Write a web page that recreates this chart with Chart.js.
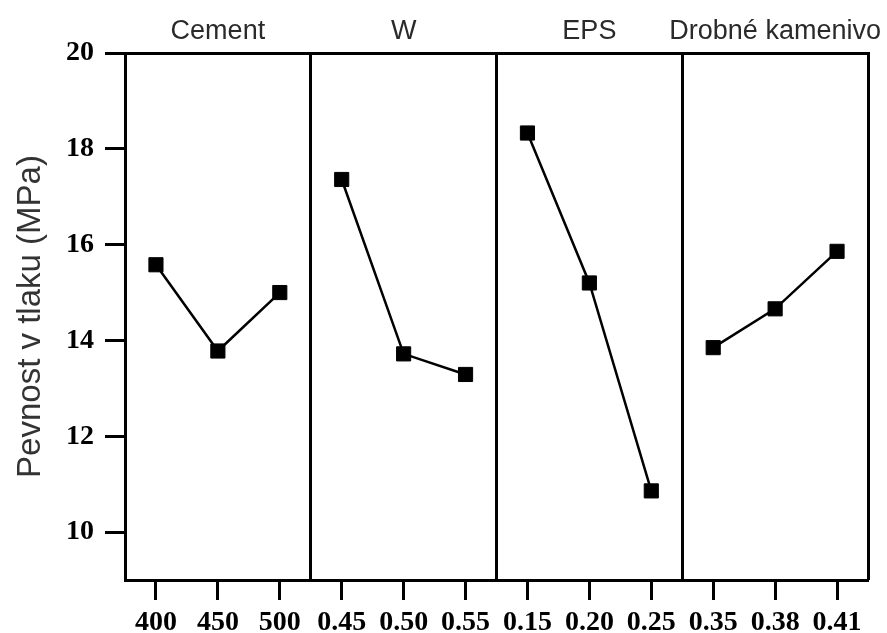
<!DOCTYPE html>
<html>
<head>
<meta charset="utf-8">
<script src="https://cdn.jsdelivr.net/npm/chart.js@4"></script>
<style>
  html, body { margin: 0; padding: 0; background: #fff; }
  #wrap { width: 887px; height: 633px; }
</style>
</head>
<body>
<div id="wrap"><canvas id="mainEffects"></canvas></div>
<script>
// factor names and their levels
const groupNames = ['Cement', 'W', 'EPS', 'Drobné kamenivo'];
const cementLevels = ['400', '450', '500'];
const wLevels = ['0.45', '0.50', '0.55'];
const epsLevels = ['0.15', '0.20', '0.25'];
const sandLevels = ['0.35', '0.38', '0.41'];

// mean compressive strength (MPa) per level
const cementValues = [15.58, 13.78, 15.0];
const wValues = [17.36, 13.72, 13.29];
const epsValues = [18.33, 15.2, 10.86];
const sandValues = [13.85, 14.66, 15.86];

const yTicks = [10, 12, 14, 16, 18, 20];

const allLevels = [...cementLevels, ...wLevels, ...epsLevels, ...sandLevels];
const groups = [
    [cementLevels, cementValues],
    [wLevels, wValues],
    [epsLevels, epsValues],
    [sandLevels, sandValues]
];

const tickFont = { family: 'Liberation Serif', size: 28, weight: 'bold' };

const datasets = groups.map(([levels, values], i) => ({
    label: groupNames[i],
    data: levels.map((lv, j) => ({ x: lv, y: values[j] })),
    borderColor: '#000',
    backgroundColor: '#000',
    borderWidth: 2.5,
    pointStyle: 'rect',
    pointRadius: 10,
    pointBorderWidth: 1,
    xAxisID: 'x',
    yAxisID: 'y'
}));

new Chart(document.getElementById('mainEffects'), {
    type: 'line',
    data: { labels: allLevels, datasets: datasets },
    options: {
        responsive: true,
        maintainAspectRatio: false,
        animation: false,
        layout: { padding: { left: 0, right: 19, top: 0, bottom: 0 } },
        plugins: { legend: { display: false }, tooltip: { enabled: false } },
        scales: {
            x: {
                type: 'category',
                position: 'bottom',
                offset: true,
                grid: {
                    offset: false,
                    drawOnChartArea: false,
                    drawTicks: true,
                    tickLength: 20,
                    tickWidth: 3,
                    tickColor: '#000'
                },
                border: { display: true, color: '#000', width: 3 },
                ticks: { font: tickFont, color: '#000', padding: 6, maxRotation: 0, autoSkip: false },
                afterFit: s => { s.height = 53; s.paddingLeft = 0; s.paddingRight = 0; }
            },
            top: {
                type: 'category',
                position: 'top',
                labels: groupNames,
                offset: true,
                grid: {
                    offset: true,
                    drawOnChartArea: true,
                    drawTicks: false,
                    lineWidth: 3,
                    color: '#000'
                },
                border: { display: true, color: '#000', width: 3 },
                ticks: {
                    font: { family: 'Liberation Sans', size: 27 },
                    color: '#2a2a2a',
                    padding: 5,
                    maxRotation: 0,
                    autoSkip: false
                },
                afterFit: s => { s.height = 53; s.paddingLeft = 0; s.paddingRight = 0; }
            },
            y: {
                type: 'linear',
                min: 9,
                max: 20,
                afterBuildTicks: s => { s.ticks = yTicks.map(v => ({ value: v })); },
                grid: {
                    drawOnChartArea: false,
                    drawTicks: true,
                    tickLength: 20,
                    tickWidth: 3,
                    tickColor: '#000'
                },
                border: { display: true, color: '#000', width: 3 },
                ticks: { font: tickFont, color: '#000', padding: 11 },
                title: {
                    display: true,
                    text: 'Pevnost v tlaku (MPa)',
                    font: { family: 'Liberation Sans', size: 33 },
                    color: '#333',
                    padding: { top: 11, bottom: 0 }
                },
                afterFit: s => { s.width = 125; }
            }
        }
    }
});
</script>
</body>
</html>
